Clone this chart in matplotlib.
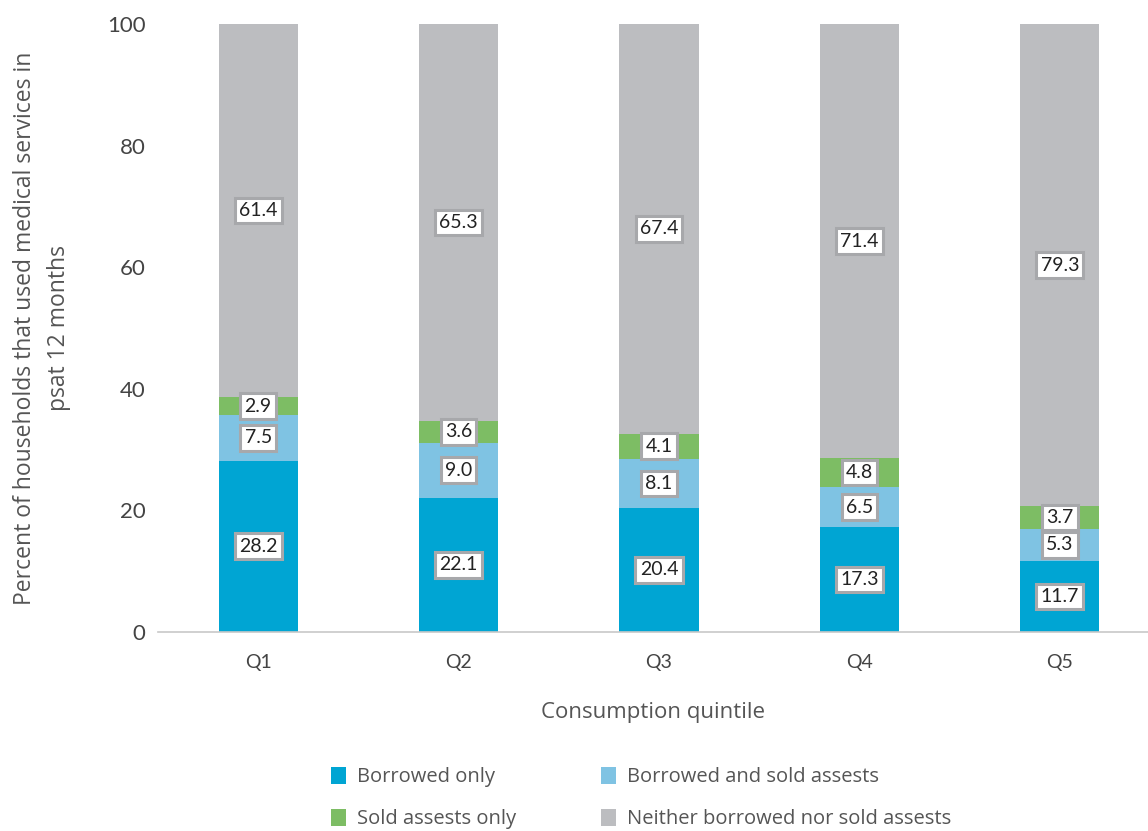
import matplotlib
matplotlib.use("Agg")
import matplotlib.pyplot as plt
import numpy as np
from matplotlib.patches import Patch

quintiles = ["Q1", "Q2", "Q3", "Q4", "Q5"]
borrowed_only = [28.2, 22.1, 20.4, 17.3, 11.7]
borrowed_and_sold = [7.5, 9.0, 8.1, 6.5, 5.3]
sold_only = [2.9, 3.6, 4.1, 4.8, 3.7]
neither = [61.4, 65.3, 67.4, 71.4, 79.3]

series = [
    ("Borrowed only", borrowed_only, "#00A5D3"),
    ("Borrowed and sold assests", borrowed_and_sold, "#7FC3E3"),
    ("Sold assests only", sold_only, "#7DBD64"),
    ("Neither borrowed nor sold assests", neither, "#BCBDC0"),
]

plt.rcParams["font.family"] = ["Lato", "DejaVu Sans"]
side_font = ["Open Sans", "DejaVu Sans"]

fig = plt.figure(figsize=(11.48, 8.31), dpi=100)
ax = fig.add_axes([0.1376, 0.2395, 0.8624, 0.7316])

x = np.arange(len(quintiles))
width = 0.395
bottom = np.zeros(len(quintiles))

for name, values, color in series:
    values = np.array(values)
    ax.bar(x, values, width, bottom=bottom, color=color, label=name,
           edgecolor="none", zorder=2)
    for xi, b, v in zip(x, bottom, values):
        ax.text(xi, b + v / 2, f"{v:.1f}", ha="center", va="center",
                fontsize=14, color="#222222", zorder=3,
                bbox=dict(boxstyle="square,pad=0.22", facecolor="white",
                          edgecolor="#A7A8AB", linewidth=2.2))
    bottom += values

ax.set_xlim(-0.5, 4.44)
ax.set_ylim(0, 100)
ax.set_yticks([0, 20, 40, 60, 80, 100])
ax.set_xticks(x)
ax.set_xticklabels(quintiles)

for side in ["top", "right", "left"]:
    ax.spines[side].set_visible(False)
ax.spines["bottom"].set_color("#C8C8C8")
ax.spines["bottom"].set_linewidth(1.2)
ax.tick_params(axis="both", length=0, colors="#444444")
ax.tick_params(axis="y", labelsize=16, pad=9)
ax.tick_params(axis="x", labelsize=14, pad=16)

ax.set_xlabel("Consumption quintile", fontsize=16, color="#555555",
              labelpad=22, family=side_font)
ax.set_ylabel("Percent of households that used medical services in\npsat 12 months",
              fontsize=16.5, color="#555555", labelpad=26, linespacing=1.55,
              family=side_font)

# legend fills column by column, so interleave to read row by row
handles = [Patch(facecolor=c, label=n) for n, _, c in series]
handles = [handles[0], handles[2], handles[1], handles[3]]
fig.legend(handles=handles, ncol=2, loc="upper left",
           bbox_to_anchor=(0.281, 0.087), frameon=False,
           prop={"family": side_font, "size": 14.5},
           labelcolor="#555555", handlelength=0.75, handleheight=0.95,
           handletextpad=0.55, columnspacing=4.2, labelspacing=1.05,
           borderaxespad=0)

fig.savefig("out.png", dpi=100)
